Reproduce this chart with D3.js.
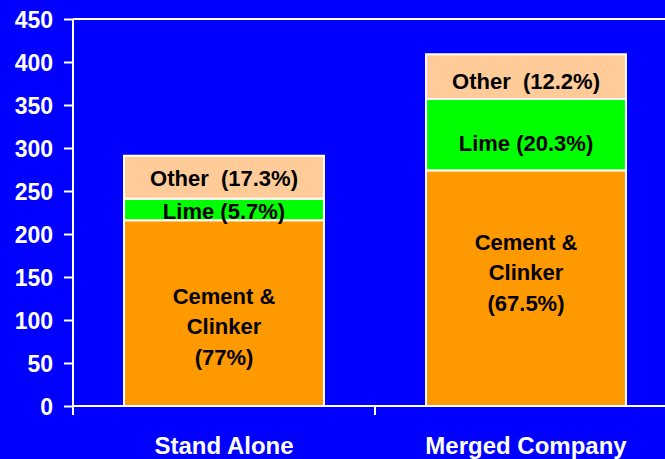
<!DOCTYPE html>
<html lang="en">
<head>
  <meta charset="UTF-8">
  <title>Revenue Mix</title>
  <script src="https://d3js.org/d3.v7.min.js"></script>
  <style>
    html, body { margin: 0; padding: 0; background: #0000ff; }
    svg { display: block; }
    text { font-family: "Liberation Sans", Arial, sans-serif; font-weight: bold; }
  </style>
</head>
<body>
  <div id="chart"></div>

  <script>
  // data
  const categories = ['Stand Alone', 'Merged Company'];
  const segments = ['cement', 'lime', 'other'];
  const cement = [216, 274];
  const lime = [25, 83];
  const other = [50, 52];
  const yTicks = [0, 50, 100, 150, 200, 250, 300, 350, 400, 450];

  const labels = {
    cement: [['Cement &', 'Clinker', '(77%)'], ['Cement &', 'Clinker', '(67.5%)']],
    lime: [['Lime (5.7%)'], ['Lime (20.3%)']],
    other: [['Other  (17.3%)'], ['Other  (12.2%)']]
  };

  const colors = { cement: '#ff9900', lime: '#00ff00', other: '#ffcc99' };
  // small vertical nudges (px) so labels sit where they do in the original
  const nudge = {
    cement: [13, -16],
    lime: [2, 8],
    other: [1, 4]
  };

  const W = 665, H = 459;
  const mLeft = 73, mRight = 677, mTop = 19, mBottom = 406;

  const rows = categories.map((c, i) => ({
    cat: c, cement: cement[i], lime: lime[i], other: other[i]
  }));

  const stack = d3.stack().keys(segments)(rows);

  const x = d3.scaleBand()
    .domain(categories)
    .range([mLeft, mRight])
    .paddingInner(0.338)
    .paddingOuter(0.169);

  const y = d3.scaleLinear().domain([0, 450]).range([mBottom, mTop]);

  const svg = d3.select('#chart').append('svg')
    .attr('width', W).attr('height', H);

  svg.append('rect').attr('width', W).attr('height', H).attr('fill', '#0000ff');

  // plot frame top line
  svg.append('line')
    .attr('x1', mLeft).attr('x2', mRight)
    .attr('y1', y(450)).attr('y2', y(450))
    .attr('stroke', '#fff').attr('stroke-width', 2);

  // bars
  stack.forEach(layer => {
    const key = layer.key;
    svg.append('g').selectAll('rect')
      .data(layer)
      .enter().append('rect')
      .attr('x', d => x(d.data.cat))
      .attr('width', x.bandwidth())
      .attr('y', d => y(d[1]))
      .attr('height', d => y(d[0]) - y(d[1]))
      .attr('fill', colors[key])
      .attr('stroke', '#fff')
      .attr('stroke-width', 2);
  });

  // segment labels
  stack.forEach(layer => {
    const key = layer.key;
    layer.forEach((d, i) => {
      const lines = labels[key][i];
      const cx = x(d.data.cat) + x.bandwidth() / 2;
      const cy = (y(d[0]) + y(d[1])) / 2 + nudge[key][i];
      const lh = 30.5;
      const t = svg.append('text')
        .attr('text-anchor', 'middle')
        .attr('font-size', 22)
        .attr('fill', '#000');
      lines.forEach((ln, j) => {
        t.append('tspan')
          .attr('x', cx)
          .attr('y', cy + 8 + (j - (lines.length - 1) / 2) * lh)
          .style('white-space', 'pre')
          .text(ln);
      });
    });
  });

  // y axis
  const yAxis = svg.append('g')
    .attr('transform', `translate(${mLeft},0)`)
    .call(d3.axisLeft(y).tickValues(yTicks).tickSize(9).tickPadding(11));
  yAxis.select('.domain').attr('stroke', '#fff').attr('stroke-width', 2)
    .attr('d', `M0,${mTop}V${mBottom + 9}`);
  yAxis.selectAll('.tick line').attr('stroke', '#fff').attr('stroke-width', 2);
  yAxis.selectAll('.tick text')
    .attr('fill', '#fff')
    .attr('font-size', 23)
    .attr('font-family', '"Liberation Sans", Arial, sans-serif')
    .attr('dy', '0.36em');

  // x axis
  svg.append('line')
    .attr('x1', mLeft).attr('x2', mRight)
    .attr('y1', mBottom).attr('y2', mBottom)
    .attr('stroke', '#fff').attr('stroke-width', 2);

  const bounds = categories.map(c => x(c) - x.step() * x.paddingInner() / 2)
    .concat([mRight]);
  svg.append('g').selectAll('line')
    .data(bounds)
    .enter().append('line')
    .attr('x1', d => d).attr('x2', d => d)
    .attr('y1', mBottom).attr('y2', mBottom + 9)
    .attr('stroke', '#fff').attr('stroke-width', 2);

  svg.append('g').selectAll('text')
    .data(categories)
    .enter().append('text')
    .attr('x', d => x(d) + x.bandwidth() / 2)
    .attr('y', 454)
    .attr('text-anchor', 'middle')
    .attr('font-size', 24)
    .attr('fill', '#fff')
    .text(d => d);
  </script>
</body>
</html>
